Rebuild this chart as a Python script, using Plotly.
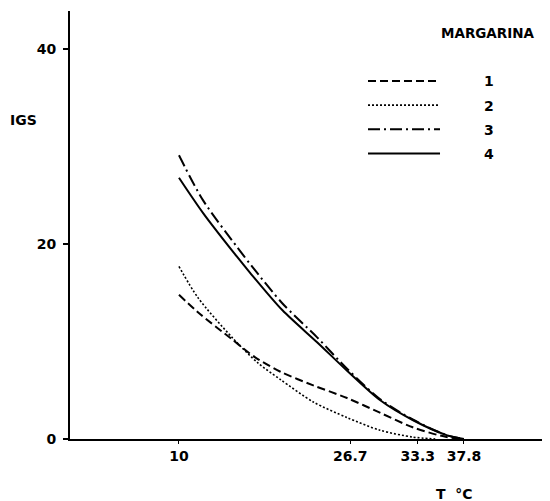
import plotly.graph_objects as go

# Temperature (°C) and IGS values
t1 = [10, 11.85, 15.2, 17.4, 19.9, 23.1, 26.4, 29.6, 32.8, 36.1, 37.8]
igs1 = [14.8, 13.0, 10.2, 8.4, 6.9, 5.5, 4.2, 2.7, 1.2, 0.2, 0.0]

t2 = [10, 11.85, 15.2, 17.7, 19.9, 23.1, 26.4, 29.6, 32.8, 35.0]
igs2 = [17.7, 14.5, 10.4, 7.8, 6.1, 3.8, 2.2, 0.9, 0.2, 0.0]

t3 = [10, 12.34, 15.66, 17.2, 20.1, 23.5, 26.4, 29.6, 32.8, 36.1, 37.8]
igs3 = [29.1, 24.5, 19.7, 17.6, 13.9, 10.4, 7.2, 4.1, 2.0, 0.4, 0.0]

t4 = [10, 12.34, 15.66, 16.9, 20.1, 23.5, 26.4, 29.6, 32.8, 36.1, 37.8]
igs4 = [26.8, 23.2, 18.7, 17.1, 13.2, 9.9, 7.0, 4.0, 1.95, 0.4, 0.0]

series_names = ["1", "2", "3", "4"]
x_tickvals = [10, 26.7, 33.3, 37.8]
x_ticktext = ["10", "26.7", "33.3", "37.8"]
y_tickvals = [0, 20, 40]
y_ticktext = ["0", "20", "40"]

FONT = "DejaVu Sans"
pad = "\u00a0" * 8

styles = [
    dict(dash="8px,4px", width=2),
    dict(dash="2px,2px", width=1.6),
    dict(dash="12px,4px,2px,4px", width=2),
    dict(dash="solid", width=2),
]

fig = go.Figure()
for i, (xs, ys) in enumerate([(t1, igs1), (t2, igs2), (t3, igs3), (t4, igs4)]):
    fig.add_trace(go.Scatter(
        x=xs, y=ys, mode="lines", name=pad + series_names[i],
        legendgroup=series_names[i],
        line=dict(color="black", shape="spline", smoothing=0.8, **styles[i]),
    ))

fig.update_layout(
    width=542, height=493,
    margin=dict(l=62, r=2, t=3, b=62),
    paper_bgcolor="white", plot_bgcolor="white",
    font=dict(family=FONT, size=14, color="black", weight="bold"),
    showlegend=True,
    legend=dict(x=0.613, y=0.873, xanchor="left", yanchor="top",
                itemwidth=72, tracegroupgap=3, bgcolor="rgba(0,0,0,0)",
                font=dict(family=FONT, size=14, weight="bold")),
    xaxis=dict(range=[-0.63, 46.0], showgrid=False, zeroline=False,
               showline=True, linecolor="black", linewidth=2,
               ticks="outside", ticklen=3, tickwidth=1, tickcolor="black",
               tickvals=x_tickvals, ticktext=x_ticktext),
    yaxis=dict(range=[0, 43.9], showgrid=False, zeroline=False,
               showline=True, linecolor="black", linewidth=2,
               ticks="outside", ticklen=5, tickwidth=2, tickcolor="black",
               tickvals=y_tickvals, ticktext=y_ticktext, ticklabelstandoff=4),
    annotations=[
        dict(text="IGS", xref="paper", yref="paper", x=-0.098, y=0.745,
             xanchor="center", yanchor="middle",
             showarrow=False, font=dict(family=FONT, size=14, weight="bold")),
        dict(text="T  \u00b0C", xref="paper", yref="paper", x=0.805, y=-0.128,
             xanchor="center", yanchor="middle",
             showarrow=False, font=dict(family=FONT, size=14, weight="bold")),
        dict(text="MARGARINA", xref="paper", yref="paper", x=0.874, y=0.949,
             xanchor="center", yanchor="middle",
             showarrow=False, font=dict(family=FONT, size=13.5, weight="bold")),
    ],
)

fig.write_html("out.html")
